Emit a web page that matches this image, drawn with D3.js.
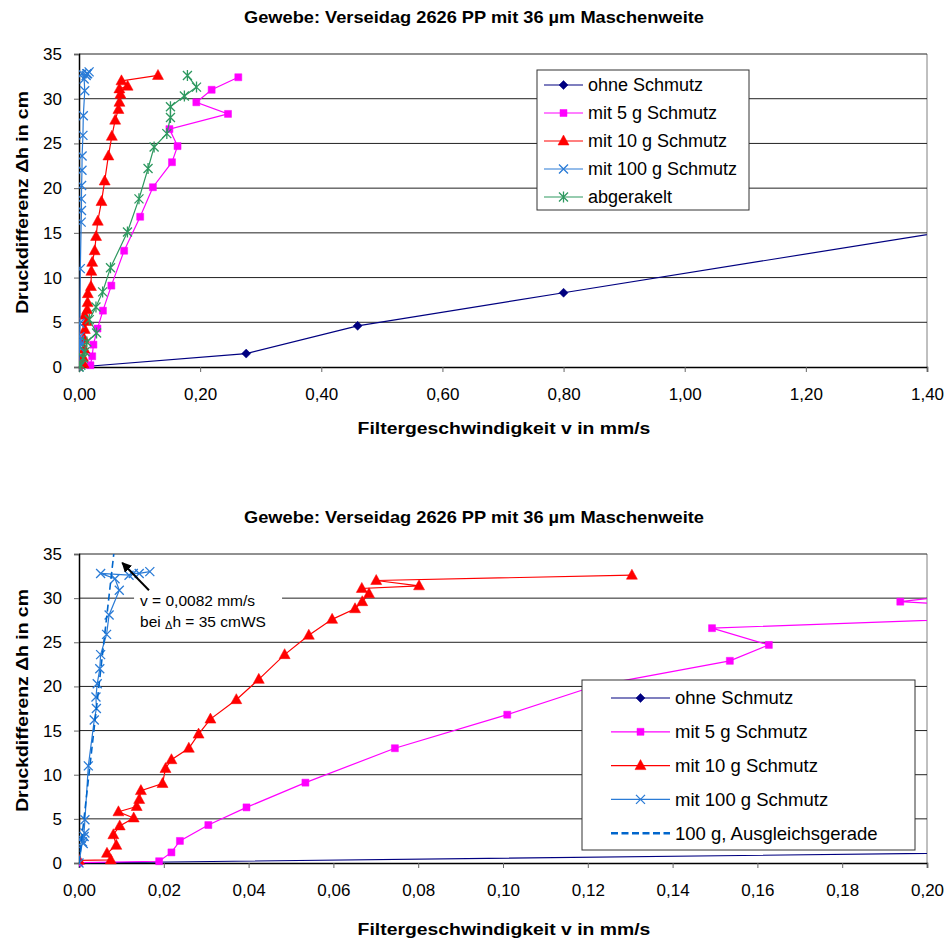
<!DOCTYPE html>
<html>
<head>
<meta charset="utf-8">
<script src="https://cdn.jsdelivr.net/npm/d3@7"></script>
<style>
  body { margin: 0; background: #fff; }
  text { font-family: "Liberation Sans", Arial, sans-serif; }
</style>
</head>
<body>
<svg id="chart" width="947" height="941"></svg>
<script>
// --- data (x = mm/s, y = cm) ---
var ohneX = [0, 0.276, 0.46, 0.80, 1.75]
var ohneY = [0, 1.5, 4.6, 8.3, 18.6]

var g5X = [0, 0.0189, 0.0218, 0.0238, 0.0305, 0.0395, 0.0534, 0.0745, 0.101, 0.122, 0.1535, 0.1627, 0.1493, 0.246, 0.1937, 0.219, 0.263]
var g5Y = [0.05, 0.2, 1.2, 2.5, 4.3, 6.3, 9.1, 13.0, 16.8, 20.1, 22.9, 24.7, 26.6, 28.3, 29.6, 31.0, 32.4]

var g10X = [0, 0.0075, 0.0066, 0.0088, 0.0081, 0.0096, 0.0129, 0.0093, 0.0136, 0.0142, 0.0146, 0.0197, 0.0204, 0.0218, 0.0259, 0.0282, 0.031, 0.0371, 0.0424, 0.0485, 0.0542, 0.0597, 0.0651, 0.0668, 0.0684, 0.0667, 0.0802, 0.0701, 0.1304]
var g10Y = [0.3, 0.35, 1.1, 2.0, 3.2, 4.2, 5.1, 5.8, 6.4, 7.2, 8.2, 9.0, 10.7, 11.7, 13.0, 14.6, 16.3, 18.5, 20.8, 23.6, 25.8, 27.6, 28.8, 29.6, 30.5, 31.1, 31.4, 32.0, 32.6]

var g100X = [0, 0.0008, 0.0005, 0.0012, 0.0014, 0.0010, 0.0014, 0.0022, 0.0036, 0.0041, 0.0040, 0.0043, 0.0049, 0.0051, 0.0065, 0.0071, 0.0095, 0.0085, 0.0051, 0.0118, 0.0128, 0.0142, 0.0167]
var g100Y = [0, 2.4, 2.8, 3.0, 3.4, 2.2, 4.9, 11.0, 16.2, 17.5, 18.8, 20.3, 22.0, 23.6, 25.9, 28.1, 30.9, 32.2, 32.8, 32.6, 32.8, 32.8, 33.0]

var abgX = [0, 0.003, 0.007, 0.010, 0.013, 0.029, 0.017, 0.028, 0.039, 0.052, 0.080, 0.099, 0.114, 0.124, 0.145, 0.151, 0.151, 0.174, 0.194, 0.179]
var abgY = [0, 0.2, 1.0, 1.7, 2.8, 3.8, 5.3, 6.7, 8.4, 11.1, 15.1, 18.8, 22.2, 24.6, 26.1, 27.9, 29.1, 30.3, 31.3, 32.6]

// 100 g fit line
var fitX = [0, 0.0082]
var fitY = [0, 35]

var topXTicks = [0, 0.2, 0.4, 0.6, 0.8, 1.0, 1.2, 1.4]
var bottomXTicks = [0, 0.02, 0.04, 0.06, 0.08, 0.10, 0.12, 0.14, 0.16, 0.18, 0.20]
var yTicks = [0, 5, 10, 15, 20, 25, 30, 35]

var title = "Gewebe: Verseidag 2626 PP mit 36 µm Maschenweite"
var xTitle = "Filtergeschwindigkeit v in mm/s"
var yTitle = "Druckdifferenz Δh in cm"

var topLabels = ["ohne Schmutz", "mit 5 g Schmutz", "mit 10 g Schmutz", "mit 100 g Schmutz", "abgerakelt"]
var bottomLabels = ["ohne Schmutz", "mit 5 g Schmutz", "mit 10 g Schmutz", "mit 100 g Schmutz", "100 g, Ausgleichsgerade"]

var annot = { x: 0.0144, y: 29.1, lines: ["v = 0,0082 mm/s", "bei Δh = 35 cmWS"], tipX: 0.0102, tipY: 34.0, tailX: 0.0165, tailY: 30.9 }

// --- styles ---
var S = {
  ohne: { color: "#000080", marker: "diamond" },
  g5: { color: "#ff00ff", marker: "square" },
  g10: { color: "#ff0000", marker: "triangle" },
  g100: { color: "#2a7bd6", marker: "cross" },
  abg: { color: "#2e9960", marker: "star" },
  fit: { color: "#0066cc", marker: null, dash: "7,4" }
}

var svg = d3.select("#chart")
var fmt = function (d) { return d3.format(".2f")(d).replace(".", ",") }
var STRETCH = 1.14

function markerPath(type) {
  if (type == "diamond") return "M0,-4.5L4.5,0L0,4.5L-4.5,0Z"
  if (type == "square") return "M-3.5,-3.5H3.5V3.5H-3.5Z"
  if (type == "triangle") return "M0,-6L5.5,4L-5.5,4Z"
  if (type == "cross") return "M-4.5,-4.5L4.5,4.5M-4.5,4.5L4.5,-4.5"
  if (type == "star") return "M-4.5,-4.5L4.5,4.5M-4.5,4.5L4.5,-4.5M0,-5.5L0,5.5"
}
function drawMarker(g, type, color) {
  var filled = (type == "diamond" || type == "square" || type == "triangle")
  g.append("path").attr("d", markerPath(type))
    .attr("fill", filled ? color : "none")
    .attr("stroke", color).attr("stroke-width", filled ? 0.5 : 1.3)
}

function drawPanel(cfg) {
  var x = d3.scaleLinear().domain([0, cfg.xMax]).range([79, 927])
  var y = d3.scaleLinear().domain([0, 35]).range([cfg.bottom, cfg.top])
  var g = svg.append("g")

  g.append("clipPath").attr("id", cfg.id).append("rect")
    .attr("x", 79).attr("y", cfg.top - 8).attr("width", 848).attr("height", cfg.bottom - cfg.top + 16)

  // title
  g.append("text").attr("transform", "translate(474," + cfg.titleY + ") scale(" + STRETCH + ",1)")
    .attr("text-anchor", "middle").attr("font-weight", "bold").attr("font-size", 16).text(title)

  // grid
  g.append("line").attr("x1", 927).attr("x2", 927).attr("y1", cfg.top).attr("y2", cfg.bottom)
    .attr("stroke", "#808080")
  g.selectAll(".grid").data(yTicks.slice(1)).enter().append("line")
    .attr("x1", 79).attr("x2", 927).attr("y1", function (d) { return y(d) }).attr("y2", function (d) { return y(d) })
    .attr("stroke", "#222").attr("stroke-width", 1)

  // axes
  var ax = g.append("g").attr("transform", "translate(0," + cfg.bottom + ")")
    .call(d3.axisBottom(x).tickValues(cfg.xTicks).tickFormat(fmt).tickSize(5).tickPadding(16))
  var ay = g.append("g").attr("transform", "translate(79,0)")
    .call(d3.axisLeft(y).tickValues(yTicks).tickFormat(d3.format("d")).tickSize(5).tickPadding(12))
  ;[ax, ay].forEach(function (a) {
    a.select(".domain").attr("stroke", "#000").attr("stroke-width", 1.5)
    a.selectAll(".tick line").attr("stroke", "#666")
    a.selectAll(".tick text").attr("font-size", 17).attr("fill", "#000")
      .style("font-family", '"Liberation Sans", Arial, sans-serif')
  })

  g.append("text").attr("transform", "translate(504," + (cfg.bottom + cfg.xTitleOff) + ") scale(" + STRETCH + ",1)")
    .attr("text-anchor", "middle").attr("font-weight", "bold").attr("font-size", 17).text(xTitle)
  g.append("text").attr("transform", "translate(28," + ((cfg.top + cfg.bottom) / 2 - 8) + ") rotate(-90) scale(" + STRETCH + ",1)")
    .attr("text-anchor", "middle").attr("font-weight", "bold").attr("font-size", 17).text(yTitle)

  // series
  var plot = g.append("g").attr("clip-path", "url(#" + cfg.id + ")")
  cfg.series.forEach(function (s) {
    var pts = s.xs.map(function (v, i) { return [v, s.ys[i]] })
    plot.append("path").datum(pts)
      .attr("d", d3.line().x(function (d) { return x(d[0]) }).y(function (d) { return y(d[1]) }))
      .attr("fill", "none").attr("stroke", s.st.color).attr("stroke-width", s.st.dash ? 1.6 : 1.2)
      .attr("stroke-dasharray", s.st.dash || null)
    if (s.st.marker) {
      plot.selectAll(null).data(pts).enter().append("g")
        .attr("transform", function (d) { return "translate(" + x(d[0]) + "," + y(d[1]) + ")" })
        .each(function () { drawMarker(d3.select(this), s.st.marker, s.st.color) })
    }
  })

  // annotation (bottom panel)
  if (cfg.annot) {
    var a = cfg.annot
    g.append("rect").attr("x", x(a.x) - 6).attr("y", y(a.y) - 15).attr("width", 148).attr("height", 42).attr("fill", "#fff")
    a.lines.forEach(function (t, i) {
      var tx = g.append("text").attr("x", x(a.x)).attr("y", y(a.y) + i * 20.5).attr("font-size", 15.5)
      if (t.indexOf("Δ") >= 0) {
        var parts = t.split("Δ")
        tx.append("tspan").text(parts[0])
        tx.append("tspan").attr("font-size", 11).attr("dy", 2).text("Δ")
        tx.append("tspan").attr("dy", -2).text(parts[1])
      } else tx.text(t)
    })
    g.append("defs").append("marker").attr("id", "arrowhead").attr("viewBox", "0 0 10 10")
      .attr("refX", 9).attr("refY", 5).attr("markerWidth", 5).attr("markerHeight", 5).attr("orient", "auto")
      .append("path").attr("d", "M0,0L10,5L0,10Z").attr("fill", "#000")
    g.append("line").attr("x1", x(a.tailX)).attr("y1", y(a.tailY)).attr("x2", x(a.tipX)).attr("y2", y(a.tipY))
      .attr("stroke", "#000").attr("stroke-width", 2).attr("marker-end", "url(#arrowhead)")
  }

  // legend
  var L = cfg.legend
  var lg = g.append("g")
  lg.append("rect").attr("x", L.x).attr("y", L.y).attr("width", L.w).attr("height", L.h)
    .attr("fill", "#fff").attr("stroke", "#333").attr("stroke-width", 1)
  cfg.series.forEach(function (s, i) {
    var ry = L.y + L.first + i * L.step
    var row = lg.append("g").attr("transform", "translate(" + L.x + "," + ry + ")")
    row.append("line").attr("x1", L.lx1).attr("x2", L.lx2).attr("stroke", s.st.color)
      .attr("stroke-width", s.st.dash ? 2.5 : 1.2).attr("stroke-dasharray", s.st.dash ? "7,3.5" : null)
    if (s.st.marker) {
      var m = row.append("g").attr("transform", "translate(" + (L.lx1 + L.lx2) / 2 + ",0)")
      drawMarker(m, s.st.marker, s.st.color)
    }
    row.append("text").attr("x", L.tx).attr("dy", "0.35em").attr("font-size", L.fs).text(cfg.labels[i])
  })
}

drawPanel({
  id: "clipTop", top: 54, bottom: 367, xMax: 1.4, xTicks: topXTicks, titleY: 23, xTitleOff: 67,
  labels: topLabels,
  series: [
    { xs: ohneX, ys: ohneY, st: S.ohne },
    { xs: g5X, ys: g5Y, st: S.g5 },
    { xs: g10X, ys: g10Y, st: S.g10 },
    { xs: g100X, ys: g100Y, st: S.g100 },
    { xs: abgX, ys: abgY, st: S.abg }
  ],
  legend: { x: 537, y: 70, w: 212, h: 140, first: 15, step: 28, lx1: 7, lx2: 46, tx: 51, fs: 18 }
})

drawPanel({
  id: "clipBottom", top: 554, bottom: 863, xMax: 0.2, xTicks: bottomXTicks, titleY: 523, xTitleOff: 72,
  labels: bottomLabels,
  series: [
    { xs: ohneX, ys: ohneY, st: S.ohne },
    { xs: g5X, ys: g5Y, st: S.g5 },
    { xs: g10X, ys: g10Y, st: S.g10 },
    { xs: g100X, ys: g100Y, st: S.g100 },
    { xs: fitX, ys: fitY, st: S.fit }
  ],
  annot: annot,
  legend: { x: 582, y: 680, w: 333, h: 170, first: 18, step: 33.8, lx1: 29, lx2: 88, tx: 93, fs: 18.5 }
})
</script>
</body>
</html>
